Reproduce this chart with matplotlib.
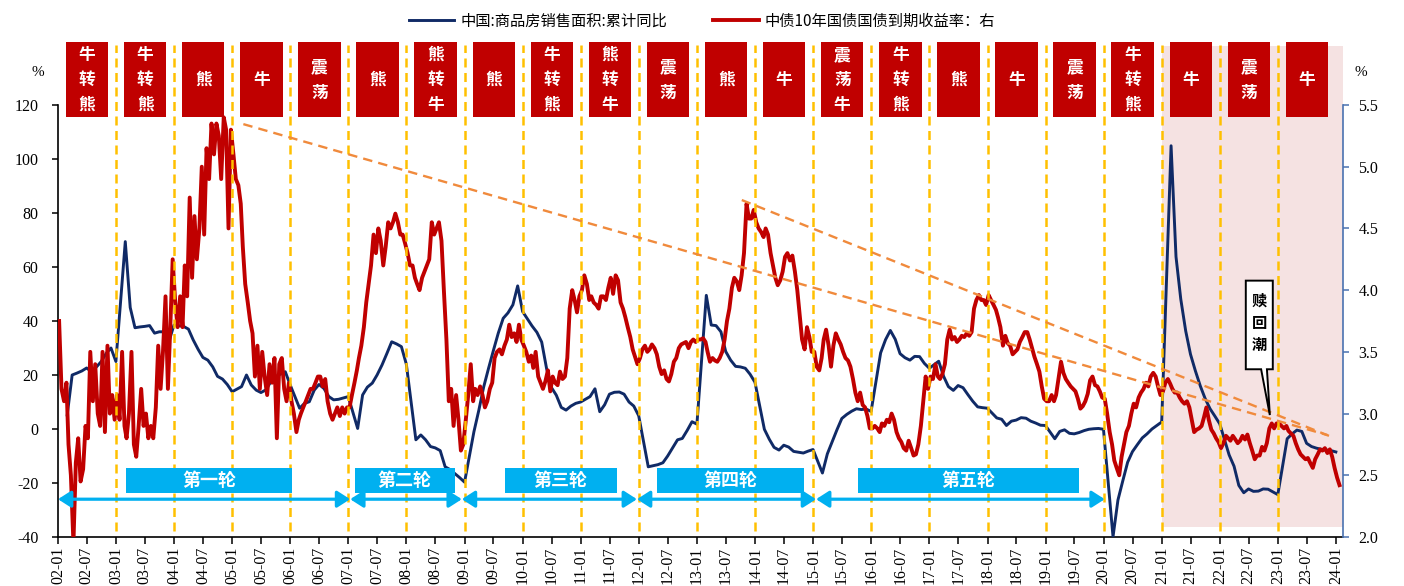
import datetime as dt
import numpy as np
import pandas as pd
import matplotlib
matplotlib.use("Agg")
import matplotlib.pyplot as plt
import matplotlib.dates as mdates
from matplotlib.patches import Rectangle, Polygon
from matplotlib.ticker import FixedLocator, FuncFormatter

plt.rcParams['font.family'] = ['Noto Sans CJK SC', 'DejaVu Sans']
plt.rcParams['axes.unicode_minus'] = False
SERIF = ['Liberation Serif', 'DejaVu Serif']

# ---------------------------------------------------------------- data
first_year, last_year = 2002, 2023

# 中国:商品房销售面积:累计同比 (%), Jan-Feb .. Jan-Dec of each year
sales_area_yoy = [
    5.2, 20, 20.7, 21.5, 22.6, 21.2, 23, 25, 28, 30, 25,                      # 2002
    69.4, 45, 37.5, 37.8, 38, 38.3, 35.5, 36, 36, 32.5, 38.5,                 # 2003
    38, 37, 33, 29.5, 26.5, 25.5, 23, 19.5, 18.5, 16.5, 13.8,                 # 2004
    15.7, 20, 16.3, 14.4, 13.5, 14.5, 17.5, 19.4, 20.3, 21.2, 16.3,           # 2005
    7.7, 9.5, 10.1, 14.4, 16.5, 15, 12, 10.8, 11, 11.5, 12,                   # 2006
    0.2, 12.6, 15.5, 17, 20, 23.7, 28, 32.3, 31.5, 30.5, 24,                  # 2007
    -4, -2.2, -4, -6.5, -7, -8, -14, -15, -16.5, -18, -19.7,                  # 2008
    -1, 7, 15.5, 22.5, 29, 35.5, 41, 43, 46, 53, 43.5,                        # 2009
    38.2, 35.8, 32.2, 22.3, 15.4, 12.5, 8, 7, 8.5, 9.5, 10,                   # 2010
    12, 14.9, 6.4, 9.0, 12.9, 13.6, 13.7, 12.9, 10.0, 8.5, 4.9,               # 2011
    -14, -13.6, -13.2, -12.5, -10, -7, -4, -3.5, -0.5, 2.7, 1.8,              # 2012
    49.5, 38.5, 38.3, 36, 28.7, 25.5, 23.2, 23, 22.5, 20.3, 17.3,             # 2013
    -0.1, -3.8, -6.8, -7.8, -6.0, -6.7, -8.3, -8.6, -8.9, -8.2, -7.6,         # 2014
    -16.3, -9.2, -4.8, -0.2, 3.9, 5.4, 6.6, 7.5, 7.2, 7.4, 6.5,               # 2015
    28.2, 33.1, 36.5, 33.2, 27.9, 26.4, 25.5, 26.9, 26.8, 24.3, 22.5,         # 2016
    25.1, 19.5, 15.7, 14.3, 16.1, 15.3, 12.7, 10.3, 8.2, 7.9, 7.7,            # 2017
    4.1, 3.6, 1.3, 2.9, 3.3, 4.2, 4.0, 2.9, 2.2, 1.4, 1.3,                    # 2018
    -3.6, -0.9, -0.3, -1.6, -1.8, -1.3, -0.6, -0.1, 0.1, 0.2, -0.1,           # 2019
    -39.9, -26.3, -19.3, -12.3, -8.4, -5.8, -3.3, -1.8, 0.0, 1.3, 2.6,        # 2020
    104.9, 63.8, 48.1, 36.3, 27.7, 21.5, 15.9, 11.3, 7.5, 4.8, 1.9,           # 2021
    -9.6, -13.8, -20.9, -23.6, -22.2, -23.1, -23.0, -22.2, -22.3, -23.3, -24.3,  # 2022
    -3.6, -1.8, -0.4, -0.9, -5.3, -6.5, -7.1, -7.5, -7.8, -8.0, -8.5,         # 2023
]

# 中债10年国债到期收益率 (%), readings on the 8th and 23rd of each month, 2002-01 .. 2024-01
cgb10y_yield = [
    3.75, 3.2, 3.1, 3.25, 2.75, 2.5, 1.95, 2.6, 2.8, 2.45, 2.55, 2.9,
    2.8, 3.5, 3.1, 3.4, 3.0, 2.9, 3.5, 2.85, 3.55, 3.0, 3.15, 2.95,           # 2002
    3.15, 2.95, 3.5, 2.9, 2.8, 3.0, 3.5, 2.75, 2.65, 2.9, 3.2, 2.9,
    3.0, 2.8, 2.9, 2.8, 3.05, 3.55, 3.2, 3.5, 3.95, 3.2, 3.7, 4.25,           # 2003
    3.9, 3.7, 3.95, 3.7, 4.2, 3.95, 4.75, 4.1, 4.6, 4.25, 4.5, 5.0,
    4.45, 5.15, 4.9, 5.35, 5.1, 5.35, 5.25, 4.9, 5.4, 5.3, 4.5, 5.3,          # 2004
    5.1, 4.9, 4.85, 4.7, 4.35, 4.05, 3.9, 3.75, 3.65, 3.3, 3.55, 3.2,
    3.5, 3.3, 3.15, 3.4, 3.25, 3.45, 2.8, 3.4, 3.45, 3.2, 3.1, 3.25,          # 2005
    3.1, 3.0, 2.85, 2.95, 3.0, 3.05, 3.1, 3.15, 3.2, 3.2, 3.25, 3.3,
    3.3, 3.22, 3.28, 3.1, 3.0, 2.95, 3.0, 3.05, 2.98, 3.05, 3.0, 3.05,        # 2006
    3.05, 3.15, 3.25, 3.35, 3.45, 3.55, 3.7, 3.9, 4.05, 4.2, 4.45, 4.3,
    4.5, 4.4, 4.2, 4.35, 4.55, 4.5, 4.55, 4.62, 4.55, 4.45, 4.45, 4.38,       # 2007
    4.3, 4.2, 4.2, 4.1, 4.05, 4.0, 4.1, 4.15, 4.2, 4.25, 4.55, 4.45,
    4.5, 4.55, 4.4, 4.0, 3.6, 3.1, 3.2, 2.9, 3.15, 2.95, 2.7, 2.75,           # 2008
    2.95, 3.15, 3.4, 3.1, 3.2, 3.15, 3.22, 3.15, 3.05, 3.1, 3.2, 3.25,
    3.45, 3.5, 3.52, 3.48, 3.55, 3.6, 3.72, 3.62, 3.65, 3.58, 3.72, 3.6,      # 2009
    3.55, 3.5, 3.42, 3.47, 3.37, 3.5, 3.3, 3.25, 3.2, 3.26, 3.35, 3.18,
    3.3, 3.25, 3.23, 3.34, 3.28, 3.3, 3.45, 3.85, 4.0, 3.92, 3.82, 3.95,      # 2010
    4.0, 4.12, 4.05, 3.92, 3.95, 3.9, 3.88, 3.85, 3.95, 3.95, 3.92, 4.02,
    4.1, 3.97, 4.12, 4.08, 3.9, 3.85, 3.78, 3.7, 3.62, 3.52, 3.46, 3.4,       # 2011
    3.45, 3.52, 3.55, 3.5, 3.52, 3.56, 3.53, 3.48, 3.38, 3.32, 3.35, 3.28,
    3.26, 3.32, 3.42, 3.45, 3.53, 3.56, 3.57, 3.58, 3.53, 3.58, 3.6, 3.58,    # 2012
    3.6, 3.6, 3.61, 3.58, 3.5, 3.42, 3.45, 3.43, 3.42, 3.45, 3.5, 3.6,
    3.75, 3.85, 4.02, 4.1, 4.07, 4.0, 4.12, 4.3, 4.7, 4.58, 4.58, 4.65,       # 2013
    4.55, 4.5, 4.47, 4.43, 4.5, 4.45, 4.3, 4.2, 4.1, 4.04, 4.08, 4.15,
    4.27, 4.3, 4.24, 4.28, 4.15, 4.0, 3.8, 3.6, 3.52, 3.7, 3.62, 3.5,         # 2014
    3.5, 3.38, 3.35, 3.45, 3.6, 3.68, 3.55, 3.38, 3.55, 3.65, 3.6, 3.56,
    3.5, 3.45, 3.43, 3.38, 3.28, 3.17, 3.1, 3.17, 3.07, 3.05, 2.98, 2.88,     # 2015
    2.88, 2.9, 2.88, 2.85, 2.92, 2.9, 2.95, 2.93, 3.0, 2.95, 2.85, 2.8,
    2.77, 2.72, 2.7, 2.78, 2.72, 2.66, 2.67, 2.75, 2.9, 3.1, 3.3, 3.2,        # 2016
    3.3, 3.28, 3.4, 3.3, 3.28, 3.32, 3.4, 3.6, 3.68, 3.6, 3.62, 3.58,
    3.6, 3.63, 3.62, 3.65, 3.63, 3.66, 3.85, 3.92, 3.96, 3.92, 3.92, 3.88,    # 2017
    3.96, 3.92, 3.88, 3.84, 3.78, 3.7, 3.55, 3.63, 3.57, 3.55, 3.48, 3.5,
    3.52, 3.58, 3.62, 3.66, 3.66, 3.6, 3.53, 3.46, 3.4, 3.34, 3.22, 3.12,     # 2018
    3.1, 3.1, 3.15, 3.1, 3.15, 3.28, 3.42, 3.33, 3.28, 3.25, 3.22, 3.2,
    3.18, 3.12, 3.04, 3.06, 3.1, 3.16, 3.27, 3.3, 3.23, 3.22, 3.18, 3.13,     # 2019
    3.12, 3.0, 2.85, 2.75, 2.62, 2.56, 2.5, 2.65, 2.75, 2.85, 2.9, 3.0,
    3.08, 3.05, 3.13, 3.17, 3.2, 3.25, 3.22, 3.3, 3.33, 3.3, 3.22, 3.15,      # 2020
    3.18, 3.25, 3.28, 3.24, 3.2, 3.17, 3.17, 3.13, 3.1, 3.08, 3.1, 3.05,
    2.95, 2.85, 2.87, 2.88, 2.9, 2.97, 3.05, 2.95, 2.87, 2.84, 2.8, 2.77,     # 2021
    2.72, 2.76, 2.82, 2.8, 2.78, 2.82, 2.79, 2.76, 2.78, 2.82, 2.79, 2.83,
    2.76, 2.7, 2.63, 2.66, 2.66, 2.73, 2.7, 2.76, 2.88, 2.92, 2.88, 2.92,     # 2022
    2.92, 2.9, 2.88, 2.9, 2.86, 2.84, 2.82, 2.76, 2.71, 2.67, 2.65, 2.63,
    2.64, 2.6, 2.56, 2.63, 2.67, 2.71, 2.7, 2.72, 2.68, 2.71, 2.65, 2.56,     # 2023
    2.48, 2.42,                                                               # 2024-01
]

# bond market phase of each calendar year
phase_years = list(range(2002, 2024))
phase_labels = ['牛转熊', '牛转熊', '熊', '牛', '震荡', '熊', '熊转牛', '熊', '牛转熊',
                '熊转牛', '震荡', '熊', '牛', '震荡牛', '牛转熊', '熊', '牛', '震荡',
                '牛转熊', '牛', '震荡', '牛']

# property cycles and the dates that separate them
cycle_names = ['第一轮', '第二轮', '第三轮', '第四轮', '第五轮']
cycle_bounds = ['2002-01-01', '2007-01-12', '2008-12-14', '2011-12-20', '2015-01-19', '2020-01-08']

legend_labels = ['中国:商品房销售面积:累计同比', '中债10年国债国债到期收益率：右']
callout_text = '赎回潮'

# ---------------------------------------------------------------- dates
sales_dates = [pd.Timestamp(y, m, 1) + pd.offsets.MonthEnd(0)
               for y in range(first_year, last_year + 1) for m in range(2, 13)]
yield_dates = [pd.Timestamp(y, m, d)
               for y in range(first_year, 2025) for m in range(1, 13) for d in (8, 23)]
yield_dates = yield_dates[:len(cgb10y_yield)]


def yr(v):
    """decimal year -> matplotlib date number"""
    y = int(np.floor(v))
    a, b = dt.datetime(y, 1, 1), dt.datetime(y + 1, 1, 1)
    return mdates.date2num(a + (b - a) * (v - y))


def left_to_right(v):
    return 2.0 + (v + 40.0) * (3.5 / 160.0)


# ---------------------------------------------------------------- figure
W, H = 1404, 586
fig = plt.figure(figsize=(W / 100, H / 100), dpi=100)
ax = fig.add_axes([58 / W, (H - 537) / H, (1343 - 58) / W, (537 - 40) / H])
ax2 = ax.twinx()

L_TOP = -40 + 497 / 2.7
ax.set_ylim(-40, L_TOP)
ax2.set_ylim(2.0, left_to_right(L_TOP))
ax.set_xlim(yr(2002.0), yr(2024.12))

NAVY = '#102A66'
RED = '#C00000'
GOLD = '#FFC000'
ORANGE = '#F08A3C'
CYAN = '#00B0F0'

# shaded recent window
x_right = ax.get_xlim()[1]
ax.add_patch(Rectangle((yr(2021.0), -36.3), x_right - yr(2021.0), 141.9 + 36.3,
                       facecolor='#F5E2E2', edgecolor='none', zorder=0.5))

l1, = ax.plot(sales_dates, sales_area_yoy, color=NAVY, lw=2.1, zorder=3,
              solid_joinstyle='round')
l2, = ax2.plot(yield_dates, cgb10y_yield, color=RED, lw=2.8, zorder=3,
               solid_joinstyle='round')

# year separators
for y in range(2003, 2024):
    ax2.plot([yr(y), yr(y)], [left_to_right(-37.8), left_to_right(142.2)],
             color=GOLD, lw=1.8, ls=(0, (3.6, 2.2)), zorder=5, clip_on=False)

# downward trend lines of the yield highs
ax2.plot([yr(2005.19), yr(2023.85)], [5.345, 2.826], color=ORANGE, lw=1.7,
         ls=(0, (4, 2.6)), zorder=5)
ax2.plot([yr(2013.77), yr(2023.95)], [4.73, 2.806], color=ORANGE, lw=1.7,
         ls=(0, (4, 2.6)), zorder=5)

# phase boxes above the plot
half_w = 0.365
for y, lab in zip(phase_years, phase_labels):
    x0 = yr(y + 0.5 - half_w)
    x1 = yr(y + 0.5 + half_w)
    b0, b1 = left_to_right(115.6), left_to_right(143.3)
    ax2.add_patch(Rectangle((x0, b0), x1 - x0, b1 - b0, facecolor=RED,
                            edgecolor='none', zorder=8, clip_on=False))
    ax2.text(yr(y + 0.5), left_to_right(129.3), '\n'.join(lab), ha='center',
             va='center', color='white', fontsize=12, fontweight='bold',
             linespacing=1.5, zorder=9, clip_on=False)

# property cycle arrows (drawn above the year separators)
arrow_y = left_to_right(-26)
bounds = [mdates.date2num(pd.Timestamp(b)) for b in cycle_bounds]
for a, b in zip(bounds[:-1], bounds[1:]):
    ax2.annotate('', xy=(b, arrow_y), xytext=(a, arrow_y),
                 arrowprops=dict(arrowstyle='<|-|>,head_length=0.78,head_width=0.5',
                                 mutation_scale=10, lw=2.3, color=CYAN,
                                 shrinkA=0, shrinkB=0),
                 zorder=7, annotation_clip=False)

label_spans = [(2003.17, 2006.03), (2007.11, 2008.83), (2009.69, 2011.62),
               (2012.31, 2014.84), (2015.77, 2019.58)]
lb0, lb1 = left_to_right(-23.6), left_to_right(-14.4)
for name, (s0, s1) in zip(cycle_names, label_spans):
    ax2.add_patch(Rectangle((yr(s0), lb0), yr(s1) - yr(s0), lb1 - lb0,
                            facecolor=CYAN, edgecolor='none', zorder=7))
    ax2.text(yr((s0 + s1) / 2), left_to_right(-19.0), name, ha='center',
             va='center', color='white', fontsize=13, fontweight='bold', zorder=8)

# callout on the 2022 redemption wave
cx0, cx1 = yr(2022.446), yr(2022.911)
cy0, cy1 = 3.359, 4.077
pts = [(cx0, cy1), (cx1, cy1), (cx1, cy0), (yr(2022.81), cy0),
       (yr(2022.86), 2.988), (yr(2022.71), cy0), (cx0, cy0)]
ax2.add_patch(Polygon(pts, closed=True, facecolor='white', edgecolor='black',
                      lw=1.4, zorder=10, joinstyle='miter'))
ax2.text((cx0 + cx1) / 2, 3.734, '\n'.join(callout_text), ha='center',
         va='center', fontsize=11, fontweight='bold', linespacing=1.45,
         color='black', zorder=11)

# ---------------------------------------------------------------- axes styling
for s in ('top', 'right'):
    ax.spines[s].set_visible(False)
for s in ('top', 'left', 'bottom'):
    ax2.spines[s].set_visible(False)
ax.spines['left'].set_bounds(-40, 120)
ax.spines['left'].set_linewidth(1.2)
ax.spines['bottom'].set_linewidth(1.2)
ax2.spines['right'].set_bounds(2.0, 5.5)
ax2.spines['right'].set_color('#4A72B0')
ax2.spines['right'].set_linewidth(1.2)

ax.yaxis.set_major_locator(FixedLocator(list(range(-40, 121, 20))))
ax.yaxis.set_major_formatter(FuncFormatter(lambda v, p: f'{int(v)}'))
ax2.yaxis.set_major_locator(FixedLocator(list(np.arange(2.0, 5.51, 0.5))))
ax2.yaxis.set_major_formatter(FuncFormatter(lambda v, p: f'{v:.1f}'))

ax.xaxis.set_major_locator(mdates.MonthLocator(bymonth=[1, 7]))
ax.xaxis.set_major_formatter(mdates.DateFormatter('%y-%m'))

ax.tick_params(axis='y', direction='out', length=4.5, width=1.1, pad=9.5,
               labelsize=11.5)
ax.tick_params(axis='x', direction='out', length=5, width=1.1, pad=2,
               labelsize=11.5, labelrotation=90)
ax2.tick_params(axis='y', direction='out', length=4.5, width=1.1, pad=6.5,
                labelsize=11.5, colors='#4A72B0', labelcolor='black')

for lbl in ax.get_yticklabels() + ax.get_xticklabels() + ax2.get_yticklabels():
    lbl.set_fontfamily(SERIF)

fig.text(38 / W, 1 - 73 / H, '%', ha='center', va='center', fontsize=11,
         family=SERIF)
fig.text(1361 / W, 1 - 73 / H, '%', ha='center', va='center', fontsize=11,
         family=SERIF)

fig.legend([l1, l2], legend_labels, loc='center', bbox_to_anchor=(702 / W, 1 - 21 / H),
           ncol=2, frameon=False, fontsize=11, handlelength=3.0,
           handletextpad=0.4, columnspacing=3.0)

fig.savefig('out.png', dpi=100)
